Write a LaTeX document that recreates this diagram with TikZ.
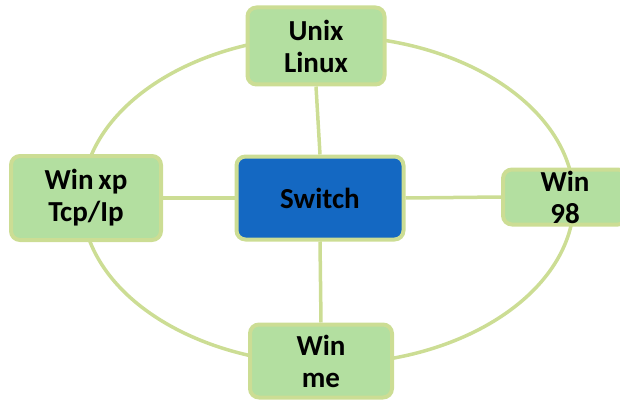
\documentclass[tikz,border=0pt]{standalone}
\usepackage{fontspec}
\setmainfont{Carlito}
\usetikzlibrary{positioning}
\definecolor{hostfill}{HTML}{B3DFA0}
\definecolor{ringgreen}{HTML}{CCDD94}
\definecolor{switchblue}{HTML}{1468C2}

\begin{document}
\begin{tikzpicture}[
x=1pt,
y=-1pt,
host/.style={
  draw=ringgreen,
  fill=hostfill,
  line width=4pt,
  rounded corners=9pt,
  align=center,
  inner sep=0pt,
  font=\bfseries\fontsize{29}{32}\selectfont
  },
hub/.style={
  host,
  fill=switchblue
  },
link/.style={
  draw=ringgreen,
  line width=3.5pt
  }
]
\useasboundingbox (0,0) rectangle (620,401);
% ring
\draw[link] (328,200) ellipse [x radius=246, y radius=164];
% nodes
\node[host, minimum width=137, minimum height=77] (unix) at (316,46) {Unix\\Linux};
\node[host, minimum width=150, minimum height=84] (winxp) at (86,198) {Win\,xp\\Tcp/Ip};
\node[hub, minimum width=167, minimum height=83] (switch) at (320,198) {Switch};
\node[host, minimum width=124, minimum height=55] (win98) at (565,197) {Win\\98};
\node[host, minimum width=142, minimum height=73] (winme) at (321,361) {Win\\me};
% links
\draw[link] (switch.north) -- (unix.south);
\draw[link] (switch.west) -- (winxp.east);
\draw[link] (switch.east) -- (win98.west);
\draw[link] (switch.south) -- (winme.north);
\end{tikzpicture}
\end{document}
